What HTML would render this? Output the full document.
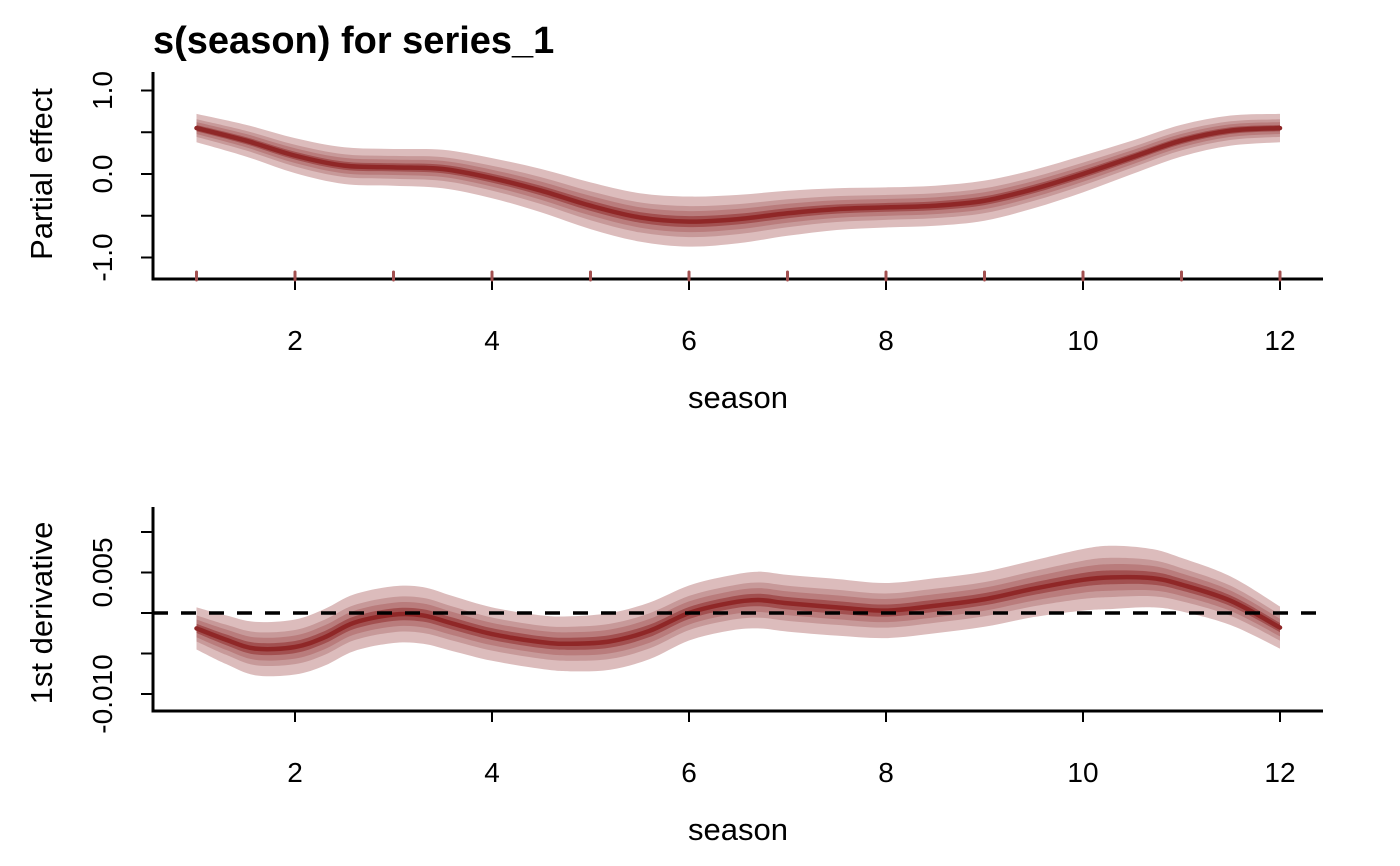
<!DOCTYPE html>
<html><head><meta charset="utf-8"><style>
body{margin:0;background:#fff}
svg{display:block;font-family:"Liberation Sans",Arial,sans-serif}
</style></head><body>
<svg id="c" width="1400" height="866" viewBox="0 0 1400 866">
<text x="153" y="53" font-size="38" font-weight="bold">s(season) for series_1</text>
<g id="topPanel"></g>
<g id="botPanel"></g>
</svg>
<script>
const seasonX = [1,1.5,2,2.5,3,3.5,4,4.5,5,5.5,6,6.5,7,7.5,8,8.5,9,9.5,10,10.5,11,11.5,12];
const effectMean = [0.55,0.4,0.22,0.1,0.08,0.06,-0.05,-0.2,-0.38,-0.52,-0.57,-0.54,-0.47,-0.42,-0.4,-0.38,-0.32,-0.18,0.0,0.2,0.4,0.52,0.55];
const effectHalf = [0.17,0.19,0.21,0.22,0.22,0.23,0.24,0.26,0.28,0.29,0.3,0.29,0.27,0.25,0.24,0.24,0.24,0.23,0.22,0.2,0.19,0.18,0.17];
const derivX = [1,1.3,1.6,2,2.3,2.6,3,3.3,3.6,4,4.5,4.8,5.2,5.6,6,6.4,6.7,7,7.5,8,8.5,9,9.5,10,10.3,10.7,11,11.5,12];
const derivMean = [-1.9,-3.3,-4.4,-4.2,-3.0,-1.2,-0.2,-0.3,-1.3,-2.6,-3.6,-3.8,-3.5,-2.2,0.0,1.2,1.6,1.2,0.7,0.3,0.9,1.7,3.0,4.1,4.4,4.3,3.5,1.5,-1.8];
const derivHalf = [2.6,3.0,3.3,3.4,3.5,3.5,3.5,3.5,3.4,3.3,3.3,3.4,3.5,3.5,3.4,3.4,3.5,3.5,3.5,3.4,3.4,3.4,3.5,3.8,3.9,3.6,3.3,3.0,2.6];
const xTicks = [2,4,6,8,10,12];
const topYTicks = [1.0,0.5,0.0,-0.5,-1.0];
const topYLabels = ["1.0","","0.0","","-1.0"];
const botYTicks = [10,5,0,-5,-10];
const botYLabels = ["","0.005","","","-0.010"];
const rugX = [1,2,3,4,5,6,7,8,9,10,11,12];

const NS="http://www.w3.org/2000/svg";
const sx = v => 196.5 + (v-1)*98.5;
function el(parent, tag, attrs){const e=document.createElementNS(NS,tag);for(const k in attrs)e.setAttribute(k,attrs[k]);parent.appendChild(e);return e;}
function splineSegs(pts){
  let d="";
  for(let i=0;i<pts.length-1;i++){
    const p0=pts[Math.max(0,i-1)],p1=pts[i],p2=pts[i+1],p3=pts[Math.min(pts.length-1,i+2)];
    const c1=[p1[0]+(p2[0]-p0[0])/6,p1[1]+(p2[1]-p0[1])/6];
    const c2=[p2[0]-(p3[0]-p1[0])/6,p2[1]-(p3[1]-p1[1])/6];
    d+=" C"+c1[0]+","+c1[1]+" "+c2[0]+","+c2[1]+" "+p2[0]+","+p2[1];
  }
  return d;
}
function spline(pts){return "M"+pts[0][0]+","+pts[0][1]+splineSegs(pts);}
function band(g,xs,mean,half,f,sy,color,name){
  const up=xs.map((x,i)=>[sx(x),sy(mean[i]+half[i]*f)]);
  const lo=xs.map((x,i)=>[sx(x),sy(mean[i]-half[i]*f)]).reverse();
  const d=spline(up)+" L"+lo[0][0]+","+lo[0][1]+splineSegs(lo)+" Z";
  const p=el(g,"path",{d:d,fill:color});
  
  
}
function panel(g,cfg){
  const {xs,mean,half,sy,yT,yL,axisY,yTop,yTitle,midY}=cfg;
  const fr=[1,0.62,0.42,0.22], cols=["#DCBCBC","#C79999","#B97C7C","#A25050"];
  fr.forEach((f,i)=>band(g,xs,mean,half,f,sy,cols[i],"credible-band-"+(i+1)));
  const m=el(g,"path",{d:spline(xs.map((x,i)=>[sx(x),sy(mean[i])])),fill:"none",stroke:"#8F2727","stroke-width":4.5,"stroke-linecap":"round"});
  
  
  const ax=el(g,"path",{d:`M153,${yTop} V${axisY} H1323`,fill:"none",stroke:"#000","stroke-width":3});
  
  
  xTicks.forEach(t=>{
    const l=el(g,"line",{x1:sx(t),x2:sx(t),y1:axisY,y2:axisY+11,stroke:"#000","stroke-width":2});
    
    
    const tx=el(g,"text",{x:sx(t),y:axisY+71,"font-size":28,"text-anchor":"middle"});tx.textContent=t;
    
    
  });
  yT.forEach((t,i)=>{
    const y=sy(t);
    const l=el(g,"line",{x1:141,x2:153,y1:y,y2:y,stroke:"#000","stroke-width":2});
    
    
    if(yL[i]){const tx=el(g,"text",{x:0,y:0,"font-size":28,"text-anchor":"middle",transform:`translate(112,${y}) rotate(-90)`});tx.textContent=yL[i];
      
      }
  });
  const xt=el(g,"text",{x:738,y:axisY+129,"font-size":31,"text-anchor":"middle"});xt.textContent="season";
  
  
  const yt=el(g,"text",{x:0,y:0,"font-size":31,"text-anchor":"middle",transform:`translate(52,${midY}) rotate(-90)`});yt.textContent=yTitle;
  
  
}
const topG=document.getElementById("topPanel"), botG=document.getElementById("botPanel");
const syTop=v=>174-v*83.5;
panel(topG,{xs:seasonX,mean:effectMean,half:effectHalf,sy:syTop,yT:topYTicks,yL:topYLabels,axisY:279,yTop:72,yTitle:"Partial effect",midY:174});
rugX.forEach(r=>{
  const l=el(topG,"line",{x1:sx(r),x2:sx(r),y1:272,y2:280,stroke:"#A25050","stroke-width":3,"stroke-linecap":"round"});
  
  
});
const syBot=v=>613-v*8.1;
panel(botG,{xs:derivX,mean:derivMean,half:derivHalf,sy:syBot,yT:botYTicks,yL:botYLabels,axisY:711,yTop:507,yTitle:"1st derivative",midY:613});
const z=el(botG,"line",{x1:153,x2:1323,y1:613,y2:613,stroke:"#000","stroke-width":3.5,"stroke-dasharray":"15,13"});


</script>
</body></html>
